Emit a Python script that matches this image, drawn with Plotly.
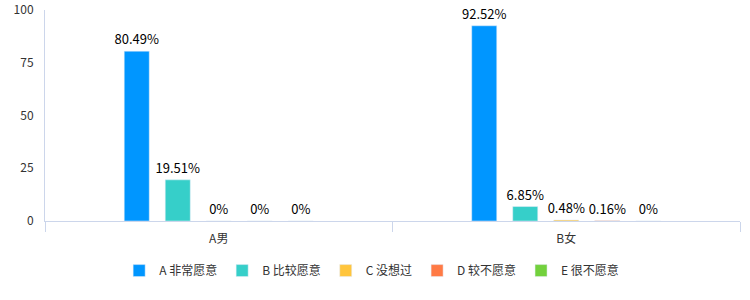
import plotly.graph_objects as go

categories = ["A男", "B女"]
series_names = ["A 非常愿意", "B 比较愿意", "C 没想过", "D 较不愿意", "E 很不愿意"]
series_values = [
    [80.49, 92.52],
    [19.51, 6.85],
    [0, 0.48],
    [0, 0.16],
    [0, 0],
]
colors = ["#0096FF", "#36CFC9", "#FFC53D", "#FF7A45", "#73D13D"]

def fmt(v):
    return "0%" if v == 0 else f"{v:g}%"

fig = go.Figure()
for name, vals, c in zip(series_names, series_values, colors):
    fig.add_trace(go.Bar(
        x=categories, y=vals, name=name, marker_color=c,
        text=[fmt(v) for v in vals], textposition="outside",
        textfont=dict(size=13, color="#000000"), cliponaxis=False,
    ))

fig.update_layout(
    width=750, height=300,
    margin=dict(l=45, r=10, t=10, b=79),
    plot_bgcolor="white", paper_bgcolor="white",
    font=dict(family="Noto Sans CJK SC, sans-serif", size=12, color="#333333"),
    barmode="group", bargap=0.41, bargroupgap=0.39,
    showlegend=True,
    legend=dict(orientation="h", x=0.47, xanchor="center", y=-0.235, yanchor="middle",
                font=dict(size=12, color="#333333"), itemwidth=30, traceorder="normal"),
    uniformtext=dict(minsize=13, mode="show"),
)
fig.update_xaxes(showline=True, linecolor="#ccd6eb", ticks="outside", tickson="boundaries",
                 ticklen=10, tickcolor="#ccd6eb", showgrid=False, automargin=False,
                 ticklabelstandoff=7)
fig.update_yaxes(range=[0, 100], dtick=25, showline=True, linecolor="#ccd6eb", showgrid=False,
                 zeroline=False, ticks="", ticklabelstandoff=8, automargin=False)
fig.write_html("out.html")
